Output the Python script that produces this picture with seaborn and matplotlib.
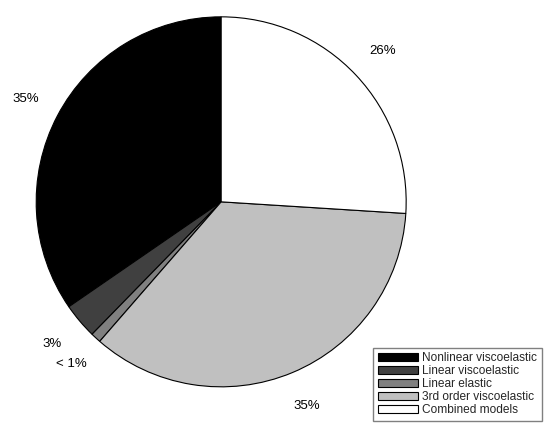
import matplotlib
matplotlib.use("Agg")
import matplotlib.pyplot as plt
import seaborn as sns

categories = ["Nonlinear viscoelastic", "Linear viscoelastic", "Linear elastic",
              "3rd order viscoelastic", "Combined models"]
shares = [34.6, 3.1, 0.9, 35.4, 26.0]
share_labels = ["35%", "3%", "< 1%", "35%", "26%"]
colors = ["#000000", "#404040", "#808080", "#c0c0c0", "#ffffff"]

sns.set_theme(style="white")
plt.rcParams["font.family"] = ["Liberation Sans", "DejaVu Sans"]

fig = plt.figure(figsize=(5.5, 4.34), dpi=100)
ax = fig.add_axes([0.0658, 0.1087, 0.6727, 0.8525])

wedges, texts = ax.pie(shares, labels=share_labels, colors=colors,
                       startangle=90, labeldistance=1.195,
                       wedgeprops=dict(edgecolor="black", linewidth=0.8),
                       textprops=dict(fontsize=9.5, color="black"))
for t in texts:
    t.set_horizontalalignment("center")
    t.set_verticalalignment("center")
ax.set_xlim(-1, 1)
ax.set_ylim(-1, 1)
ax.set_aspect("equal")

leg = ax.legend(wedges, categories, loc="lower right",
                bbox_to_anchor=(0.985, 0.03), bbox_transform=fig.transFigure,
                fontsize=8.6, frameon=True, fancybox=False, framealpha=1,
                edgecolor="#808080", handlelength=3.4, handleheight=0.7,
                labelspacing=0.08, borderpad=0.4, handletextpad=0.3,
                borderaxespad=0)
leg.get_frame().set_linewidth(1.0)

fig.savefig("out.png", dpi=100)
